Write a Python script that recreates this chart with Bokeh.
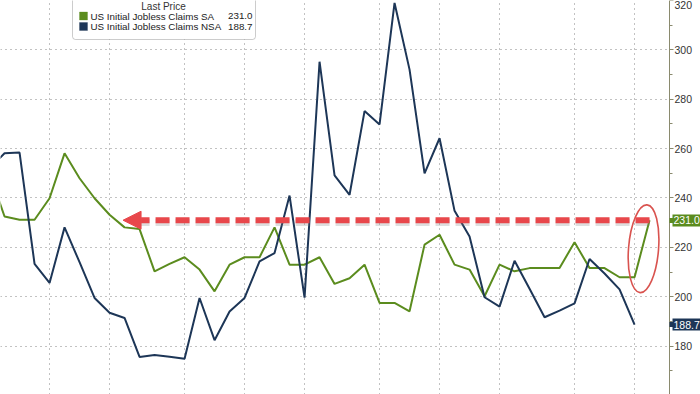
from bokeh.plotting import figure
from bokeh.models import (Range1d, FixedTicker, Grid, Arrow, NormalHead, Label,
                          BoxAnnotation, LinearAxis, PrintfTickFormatter)
from bokeh.embed import file_html
from bokeh.resources import INLINE

# ---- data (weekly, in thousands) ----
weeks_sa = list(range(-1, 44))
sa = [250, 232.5, 231.2, 231.2, 239.9, 258.1, 248.0, 239.9, 233.2, 228.1, 227.4,
      210.3, 213.3, 216.0, 211.0, 202.2, 213.0, 216.0, 216.0, 228.1, 213.0,
      213.0, 216.0, 205.2, 207.5, 213.0, 197.5, 197.5, 194.1, 221.1, 225.1,
      213.0, 211.0, 200.2, 213.0, 210.3, 211.6, 211.6, 211.6, 222.1, 211.6,
      211.6, 207.9, 207.9, 231.0]
weeks_nsa = list(range(-1, 43))
nsa = [252, 258.1, 258.4, 213.3, 205.6, 228.1, 214.0, 199.5, 193.5, 191.4, 175.6,
       176.4, 175.7, 174.9, 199.5, 182.4, 194.0, 199.5, 214.3, 217.7, 241.0,
       199.6, 295.2, 249.2, 241.3, 275.2, 269.8, 319.0, 292.0, 250.0, 264.2,
       234.8, 224.4, 199.8, 196.0, 214.6, 203.2, 191.7, 194.4, 197.3, 215.3,
       209.4, 203.0, 188.7]
month_starts = [3, 7, 12, 16, 20, 25, 29, 33, 38, 42]
y_ticks = [160, 180, 200, 220, 240, 260, 280, 300, 320]
y_minor = [170, 190, 210, 230, 250, 270, 290, 310]
arrow_target_week = 7.9
name_sa = "US Initial Jobless Claims SA"
name_nsa = "US Initial Jobless Claims NSA"
legend_title = "Last Price"

GREEN = "#5b8c1e"
NAVY = "#1d3657"
RED = "#e8474b"
AXIS = "#8a8a6e"
GRID = "#858585"
FONT = "Liberation Sans"

W, H = 700, 394
X0 = -0.27                 # left edge of the frame (weeks)
XPX = 1 / 15.0             # weeks per pixel
XA = X0 + 669 * XPX        # where the value axis sits
X2 = X0 + W * XPX
Y0, Y1 = 160.4, 320.0
YPX = (Y1 - Y0) / H

p = figure(width=W, height=H, x_range=Range1d(X0, X2), y_range=Range1d(Y0, Y1),
           x_axis_location=None, y_axis_location=None, toolbar_location=None,
           output_backend="svg", min_border=0)
p.outline_line_color = None
p.background_fill_color = "white"
p.border_fill_color = "white"
for g in p.grid:
    g.grid_line_color = None

p.add_layout(Grid(dimension=1, ticker=FixedTicker(ticks=y_ticks),
                  grid_line_color=GRID, grid_line_dash="1 4"))
p.add_layout(Grid(dimension=0, ticker=FixedTicker(ticks=month_starts),
                  grid_line_color=GRID, grid_line_dash="1 4"))
# blank strip right of the value axis (grid lines stop at the axis)
p.add_layout(BoxAnnotation(left=XA, fill_color="white", fill_alpha=1, line_alpha=0,
                           level="underlay"))

p.line(weeks_sa, sa, line_color=GREEN, line_width=2)
p.line(weeks_nsa, nsa, line_color=NAVY, line_width=2)

# value axis pinned at XA
yax = LinearAxis(fixed_location=XA, ticker=FixedTicker(ticks=y_ticks, minor_ticks=y_minor),
                 axis_line_color=AXIS, major_tick_line_color=AXIS, minor_tick_line_color=AXIS,
                 major_tick_out=4, major_tick_in=0, minor_tick_out=3, minor_tick_in=0,
                 major_label_standoff=1, major_label_text_font=FONT,
                 major_label_text_font_size="10.5px", major_label_text_color="#333333")
p.add_layout(yax, "right")

# highlight ellipse around last move
p.ellipse(x=[(weeks_sa[-1] + weeks_sa[-2]) / 2 + 0.1], y=[(sa[-1] + sa[-2]) / 2],
          width=30, height=88, width_units="screen", height_units="screen",
          angle=-0.08, fill_color=None, line_color="#d9534f", line_width=1.6)

# red dashed arrow with soft shadow
p.add_layout(Arrow(end=None, x_start=weeks_sa[-1], y_start=sa[-1] - 2.2 * YPX,
                   x_end=arrow_target_week + 0.5, y_end=sa[-1] - 2.2 * YPX,
                   line_color="#7a7a7a", line_alpha=0.25, line_width=7,
                   line_dash="14 6"))
p.add_layout(Arrow(end=NormalHead(size=18, fill_color=RED, line_color=RED),
                   x_start=weeks_sa[-1], y_start=sa[-1],
                   x_end=arrow_target_week, y_end=sa[-1],
                   line_color=RED, line_width=6, line_dash="14 6"))

# last-value tags on the axis
for v, col in [(sa[-1], GREEN), (nsa[-1], NAVY)]:
    tip = LinearAxis(fixed_location=XA, ticker=FixedTicker(ticks=[v], minor_ticks=[]),
                     formatter=PrintfTickFormatter(format="%.1f"),
                     axis_line_color=None, minor_tick_line_color=None,
                     major_tick_in=0, major_tick_out=31, major_tick_line_width=5,
                     major_tick_line_color=col, major_tick_line_cap="butt",
                     major_label_overrides={v: ""})
    body = LinearAxis(fixed_location=XA + 3 * XPX, ticker=FixedTicker(ticks=[v], minor_ticks=[]),
                      formatter=PrintfTickFormatter(format="%.1f"),
                      axis_line_color=None, minor_tick_line_color=None,
                      major_tick_in=0, major_tick_out=28, major_tick_line_width=12,
                      major_tick_line_color=col, major_tick_line_cap="butt",
                      major_label_standoff=-27, major_label_text_color="white",
                      major_label_text_font=FONT, major_label_text_font_size="10.5px")
    p.add_layout(tip, "right")
    p.add_layout(body, "right")

# legend box
p.add_layout(BoxAnnotation(left=72, right=255, bottom=H - 39, top=H + 6,
                           left_units="screen", right_units="screen",
                           bottom_units="screen", top_units="screen",
                           fill_color="white", fill_alpha=1, line_color="#555555",
                           line_width=1, border_radius=3))
p.add_layout(Label(x=163, y=H - 6, x_units="screen", y_units="screen", text=legend_title,
                   text_align="center", text_baseline="middle", text_color="#333333",
                   text_font=FONT, text_font_size="10px"))
for i, (nm, vals, col) in enumerate([(name_sa, sa, GREEN), (name_nsa, nsa, NAVY)]):
    cy = H - 15.5 - 10.5 * i
    p.add_layout(BoxAnnotation(left=79, right=87, bottom=cy - 4, top=cy + 4,
                               left_units="screen", right_units="screen",
                               bottom_units="screen", top_units="screen",
                               fill_color=col, fill_alpha=1, line_color=col))
    p.add_layout(Label(x=90, y=cy, x_units="screen", y_units="screen", text=nm,
                       text_align="left", text_baseline="middle", text_color="#222222",
                       text_font=FONT, text_font_size="9.8px"))
    p.add_layout(Label(x=252, y=cy, x_units="screen", y_units="screen", text=f"{vals[-1]:.1f}",
                       text_align="right", text_baseline="middle", text_color="#222222",
                       text_font=FONT, text_font_size="9.8px"))

open("out.html", "w").write(file_html(p, INLINE))
